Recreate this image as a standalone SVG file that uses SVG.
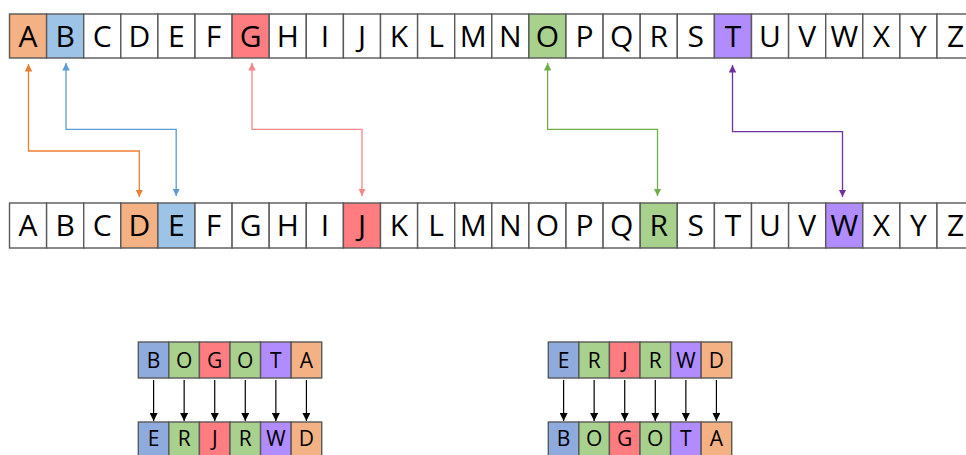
<svg xmlns="http://www.w3.org/2000/svg" width="966" height="455" viewBox="0 0 966 455">
  <style>
    .cell { fill: #ffffff; stroke: #595959; stroke-width: 1.4; }
    .big { font-family: "Open Sans", "Liberation Sans", sans-serif; font-size: 30px; fill: #000; text-anchor: middle; }
    .small { font-family: "Open Sans", "Liberation Sans", sans-serif; font-size: 21px; fill: #000; text-anchor: middle; }
    .orange { fill: #F4B183; }
    .blue { fill: #9DC3E6; }
    .blue2 { fill: #8FAADC; }
    .red { fill: #FF7C80; }
    .green { fill: #A9D18E; }
    .purple { fill: #B18CFF; }
    .link { fill: none; stroke-width: 1.3; }
    .down { fill: none; stroke: #000; stroke-width: 1.2; marker-end: url(#mk-black); }
  </style>
  <defs>
    <marker id="mk-orange" viewBox="0 0 10 10" refX="10" refY="5" markerWidth="7.5" markerHeight="7.5" markerUnits="userSpaceOnUse" orient="auto-start-reverse"><path d="M0,0 L10,5 L0,10 Z" fill="#ED7D31"/></marker>
    <marker id="mk-blue" viewBox="0 0 10 10" refX="10" refY="5" markerWidth="7.5" markerHeight="7.5" markerUnits="userSpaceOnUse" orient="auto-start-reverse"><path d="M0,0 L10,5 L0,10 Z" fill="#5B9BD5"/></marker>
    <marker id="mk-red" viewBox="0 0 10 10" refX="10" refY="5" markerWidth="7.5" markerHeight="7.5" markerUnits="userSpaceOnUse" orient="auto-start-reverse"><path d="M0,0 L10,5 L0,10 Z" fill="#F4878A"/></marker>
    <marker id="mk-green" viewBox="0 0 10 10" refX="10" refY="5" markerWidth="7.5" markerHeight="7.5" markerUnits="userSpaceOnUse" orient="auto-start-reverse"><path d="M0,0 L10,5 L0,10 Z" fill="#70AD47"/></marker>
    <marker id="mk-purple" viewBox="0 0 10 10" refX="10" refY="5" markerWidth="7.5" markerHeight="7.5" markerUnits="userSpaceOnUse" orient="auto-start-reverse"><path d="M0,0 L10,5 L0,10 Z" fill="#7030A0"/></marker>
    <marker id="mk-black" viewBox="0 0 10 10" refX="10" refY="5" markerWidth="8" markerHeight="8" markerUnits="userSpaceOnUse" orient="auto"><path d="M0,0 L10,5 L0,10 Z" fill="#000"/></marker>
  </defs>
  <rect width="966" height="455" fill="#ffffff"/>

  <!-- plain alphabet (top row) -->
  <g id="plain-alphabet">
    <g id="top-A"><rect class="cell orange" x="9.5" y="14" width="37.1" height="44"/><text class="big" x="28.05" y="47">A</text></g>
    <g id="top-B"><rect class="cell blue" x="46.6" y="14" width="37.1" height="44"/><text class="big" x="65.15" y="47">B</text></g>
    <g id="top-C"><rect class="cell" x="83.7" y="14" width="37.1" height="44"/><text class="big" x="102.25" y="47">C</text></g>
    <g id="top-D"><rect class="cell" x="120.8" y="14" width="37.1" height="44"/><text class="big" x="139.35" y="47">D</text></g>
    <g id="top-E"><rect class="cell" x="157.9" y="14" width="37.1" height="44"/><text class="big" x="176.45" y="47">E</text></g>
    <g id="top-F"><rect class="cell" x="195" y="14" width="37.1" height="44"/><text class="big" x="213.55" y="47">F</text></g>
    <g id="top-G"><rect class="cell red" x="232.1" y="14" width="37.1" height="44"/><text class="big" x="250.65" y="47">G</text></g>
    <g id="top-H"><rect class="cell" x="269.2" y="14" width="37.1" height="44"/><text class="big" x="287.75" y="47">H</text></g>
    <g id="top-I"><rect class="cell" x="306.3" y="14" width="37.1" height="44"/><text class="big" x="324.85" y="47">I</text></g>
    <g id="top-J"><rect class="cell" x="343.4" y="14" width="37.1" height="44"/><text class="big" x="361.95" y="47">J</text></g>
    <g id="top-K"><rect class="cell" x="380.5" y="14" width="37.1" height="44"/><text class="big" x="399.05" y="47">K</text></g>
    <g id="top-L"><rect class="cell" x="417.6" y="14" width="37.1" height="44"/><text class="big" x="436.15" y="47">L</text></g>
    <g id="top-M"><rect class="cell" x="454.7" y="14" width="37.1" height="44"/><text class="big" x="473.25" y="47">M</text></g>
    <g id="top-N"><rect class="cell" x="491.8" y="14" width="37.1" height="44"/><text class="big" x="510.35" y="47">N</text></g>
    <g id="top-O"><rect class="cell green" x="528.9" y="14" width="37.1" height="44"/><text class="big" x="547.45" y="47">O</text></g>
    <g id="top-P"><rect class="cell" x="566" y="14" width="37.1" height="44"/><text class="big" x="584.55" y="47">P</text></g>
    <g id="top-Q"><rect class="cell" x="603.1" y="14" width="37.1" height="44"/><text class="big" x="621.65" y="47">Q</text></g>
    <g id="top-R"><rect class="cell" x="640.2" y="14" width="37.1" height="44"/><text class="big" x="658.75" y="47">R</text></g>
    <g id="top-S"><rect class="cell" x="677.3" y="14" width="37.1" height="44"/><text class="big" x="695.85" y="47">S</text></g>
    <g id="top-T"><rect class="cell purple" x="714.4" y="14" width="37.1" height="44"/><text class="big" x="732.95" y="47">T</text></g>
    <g id="top-U"><rect class="cell" x="751.5" y="14" width="37.1" height="44"/><text class="big" x="770.05" y="47">U</text></g>
    <g id="top-V"><rect class="cell" x="788.6" y="14" width="37.1" height="44"/><text class="big" x="807.15" y="47">V</text></g>
    <g id="top-W"><rect class="cell" x="825.7" y="14" width="37.1" height="44"/><text class="big" x="844.25" y="47">W</text></g>
    <g id="top-X"><rect class="cell" x="862.8" y="14" width="37.1" height="44"/><text class="big" x="881.35" y="47">X</text></g>
    <g id="top-Y"><rect class="cell" x="899.9" y="14" width="37.1" height="44"/><text class="big" x="918.45" y="47">Y</text></g>
    <g id="top-Z"><rect class="cell" x="937" y="14" width="37.1" height="44"/><text class="big" x="955.55" y="47">Z</text></g>
  </g>

  <!-- shifted alphabet (middle row) -->
  <g id="shifted-alphabet">
    <g id="mid-A"><rect class="cell" x="9.5" y="203" width="37.1" height="45"/><text class="big" x="28.05" y="236">A</text></g>
    <g id="mid-B"><rect class="cell" x="46.6" y="203" width="37.1" height="45"/><text class="big" x="65.15" y="236">B</text></g>
    <g id="mid-C"><rect class="cell" x="83.7" y="203" width="37.1" height="45"/><text class="big" x="102.25" y="236">C</text></g>
    <g id="mid-D"><rect class="cell orange" x="120.8" y="203" width="37.1" height="45"/><text class="big" x="139.35" y="236">D</text></g>
    <g id="mid-E"><rect class="cell blue" x="157.9" y="203" width="37.1" height="45"/><text class="big" x="176.45" y="236">E</text></g>
    <g id="mid-F"><rect class="cell" x="195" y="203" width="37.1" height="45"/><text class="big" x="213.55" y="236">F</text></g>
    <g id="mid-G"><rect class="cell" x="232.1" y="203" width="37.1" height="45"/><text class="big" x="250.65" y="236">G</text></g>
    <g id="mid-H"><rect class="cell" x="269.2" y="203" width="37.1" height="45"/><text class="big" x="287.75" y="236">H</text></g>
    <g id="mid-I"><rect class="cell" x="306.3" y="203" width="37.1" height="45"/><text class="big" x="324.85" y="236">I</text></g>
    <g id="mid-J"><rect class="cell red" x="343.4" y="203" width="37.1" height="45"/><text class="big" x="361.95" y="236">J</text></g>
    <g id="mid-K"><rect class="cell" x="380.5" y="203" width="37.1" height="45"/><text class="big" x="399.05" y="236">K</text></g>
    <g id="mid-L"><rect class="cell" x="417.6" y="203" width="37.1" height="45"/><text class="big" x="436.15" y="236">L</text></g>
    <g id="mid-M"><rect class="cell" x="454.7" y="203" width="37.1" height="45"/><text class="big" x="473.25" y="236">M</text></g>
    <g id="mid-N"><rect class="cell" x="491.8" y="203" width="37.1" height="45"/><text class="big" x="510.35" y="236">N</text></g>
    <g id="mid-O"><rect class="cell" x="528.9" y="203" width="37.1" height="45"/><text class="big" x="547.45" y="236">O</text></g>
    <g id="mid-P"><rect class="cell" x="566" y="203" width="37.1" height="45"/><text class="big" x="584.55" y="236">P</text></g>
    <g id="mid-Q"><rect class="cell" x="603.1" y="203" width="37.1" height="45"/><text class="big" x="621.65" y="236">Q</text></g>
    <g id="mid-R"><rect class="cell green" x="640.2" y="203" width="37.1" height="45"/><text class="big" x="658.75" y="236">R</text></g>
    <g id="mid-S"><rect class="cell" x="677.3" y="203" width="37.1" height="45"/><text class="big" x="695.85" y="236">S</text></g>
    <g id="mid-T"><rect class="cell" x="714.4" y="203" width="37.1" height="45"/><text class="big" x="732.95" y="236">T</text></g>
    <g id="mid-U"><rect class="cell" x="751.5" y="203" width="37.1" height="45"/><text class="big" x="770.05" y="236">U</text></g>
    <g id="mid-V"><rect class="cell" x="788.6" y="203" width="37.1" height="45"/><text class="big" x="807.15" y="236">V</text></g>
    <g id="mid-W"><rect class="cell purple" x="825.7" y="203" width="37.1" height="45"/><text class="big" x="844.25" y="236">W</text></g>
    <g id="mid-X"><rect class="cell" x="862.8" y="203" width="37.1" height="45"/><text class="big" x="881.35" y="236">X</text></g>
    <g id="mid-Y"><rect class="cell" x="899.9" y="203" width="37.1" height="45"/><text class="big" x="918.45" y="236">Y</text></g>
    <g id="mid-Z"><rect class="cell" x="937" y="203" width="37.1" height="45"/><text class="big" x="955.55" y="236">Z</text></g>
  </g>

  <!-- plaintext BOGOTA -> ciphertext ERJRWD -->
  <g id="encrypt-in">
    <g id="enc-in-1"><rect class="cell blue2" x="138.3" y="342" width="30.57" height="36"/><text class="small" x="153.6" y="367.5">B</text></g>
    <g id="enc-in-2"><rect class="cell green" x="168.87" y="342" width="30.57" height="36"/><text class="small" x="184.15" y="367.5">O</text></g>
    <g id="enc-in-3"><rect class="cell red" x="199.44" y="342" width="30.57" height="36"/><text class="small" x="214.72" y="367.5">G</text></g>
    <g id="enc-in-4"><rect class="cell green" x="230.01" y="342" width="30.57" height="36"/><text class="small" x="245.29" y="367.5">O</text></g>
    <g id="enc-in-5"><rect class="cell purple" x="260.58" y="342" width="30.57" height="36"/><text class="small" x="275.86" y="367.5">T</text></g>
    <g id="enc-in-6"><rect class="cell orange" x="291.15" y="342" width="30.57" height="36"/><text class="small" x="306.43" y="367.5">A</text></g>
  </g>
  <g id="encrypt-out">
    <g id="enc-out-1"><rect class="cell blue2" x="138.3" y="422" width="30.57" height="36"/><text class="small" x="153.6" y="446">E</text></g>
    <g id="enc-out-2"><rect class="cell green" x="168.87" y="422" width="30.57" height="36"/><text class="small" x="184.15" y="446">R</text></g>
    <g id="enc-out-3"><rect class="cell red" x="199.44" y="422" width="30.57" height="36"/><text class="small" x="214.72" y="446">J</text></g>
    <g id="enc-out-4"><rect class="cell green" x="230.01" y="422" width="30.57" height="36"/><text class="small" x="245.29" y="446">R</text></g>
    <g id="enc-out-5"><rect class="cell purple" x="260.58" y="422" width="30.57" height="36"/><text class="small" x="275.86" y="446">W</text></g>
    <g id="enc-out-6"><rect class="cell orange" x="291.15" y="422" width="30.57" height="36"/><text class="small" x="306.43" y="446">D</text></g>
  </g>

  <!-- ciphertext ERJRWD -> plaintext BOGOTA -->
  <g id="decrypt-in">
    <g id="dec-in-1"><rect class="cell blue2" x="548.3" y="342" width="30.57" height="36"/><text class="small" x="563.6" y="367.5">E</text></g>
    <g id="dec-in-2"><rect class="cell green" x="578.87" y="342" width="30.57" height="36"/><text class="small" x="594.15" y="367.5">R</text></g>
    <g id="dec-in-3"><rect class="cell red" x="609.44" y="342" width="30.57" height="36"/><text class="small" x="624.72" y="367.5">J</text></g>
    <g id="dec-in-4"><rect class="cell green" x="640.01" y="342" width="30.57" height="36"/><text class="small" x="655.29" y="367.5">R</text></g>
    <g id="dec-in-5"><rect class="cell purple" x="670.58" y="342" width="30.57" height="36"/><text class="small" x="685.86" y="367.5">W</text></g>
    <g id="dec-in-6"><rect class="cell orange" x="701.15" y="342" width="30.57" height="36"/><text class="small" x="716.43" y="367.5">D</text></g>
  </g>
  <g id="decrypt-out">
    <g id="dec-out-1"><rect class="cell blue2" x="548.3" y="422" width="30.57" height="36"/><text class="small" x="563.6" y="446">B</text></g>
    <g id="dec-out-2"><rect class="cell green" x="578.87" y="422" width="30.57" height="36"/><text class="small" x="594.15" y="446">O</text></g>
    <g id="dec-out-3"><rect class="cell red" x="609.44" y="422" width="30.57" height="36"/><text class="small" x="624.72" y="446">G</text></g>
    <g id="dec-out-4"><rect class="cell green" x="640.01" y="422" width="30.57" height="36"/><text class="small" x="655.29" y="446">O</text></g>
    <g id="dec-out-5"><rect class="cell purple" x="670.58" y="422" width="30.57" height="36"/><text class="small" x="685.86" y="446">T</text></g>
    <g id="dec-out-6"><rect class="cell orange" x="701.15" y="422" width="30.57" height="36"/><text class="small" x="716.43" y="446">A</text></g>
  </g>

  <!-- connectors -->
  <g id="connectors">
    <path class="link" stroke="#ED7D31" marker-start="url(#mk-orange)" marker-end="url(#mk-orange)" d="M28.5,64 V151 H139.3 V197"/>
    <path class="link" stroke="#5B9BD5" marker-start="url(#mk-blue)" marker-end="url(#mk-blue)" d="M66,63 V129.3 H176.2 V196"/>
    <path class="link" stroke="#F4878A" marker-start="url(#mk-red)" marker-end="url(#mk-red)" d="M252,63 V129.3 H362 V196"/>
    <path class="link" stroke="#70AD47" marker-start="url(#mk-green)" marker-end="url(#mk-green)" d="M547.6,63 V129.3 H657.5 V196"/>
    <path class="link" stroke="#7030A0" marker-start="url(#mk-purple)" marker-end="url(#mk-purple)" d="M732.5,65 V131.7 H842.5 V197"/>

    <path class="down" d="M153.6,380 V421"/>
    <path class="down" d="M184.15,380 V421"/>
    <path class="down" d="M214.72,380 V421"/>
    <path class="down" d="M245.29,380 V421"/>
    <path class="down" d="M275.86,380 V421"/>
    <path class="down" d="M306.43,380 V421"/>

    <path class="down" d="M563.6,380 V421"/>
    <path class="down" d="M594.15,380 V421"/>
    <path class="down" d="M624.72,380 V421"/>
    <path class="down" d="M655.29,380 V421"/>
    <path class="down" d="M685.86,380 V421"/>
    <path class="down" d="M716.43,380 V421"/>
  </g>
</svg>
